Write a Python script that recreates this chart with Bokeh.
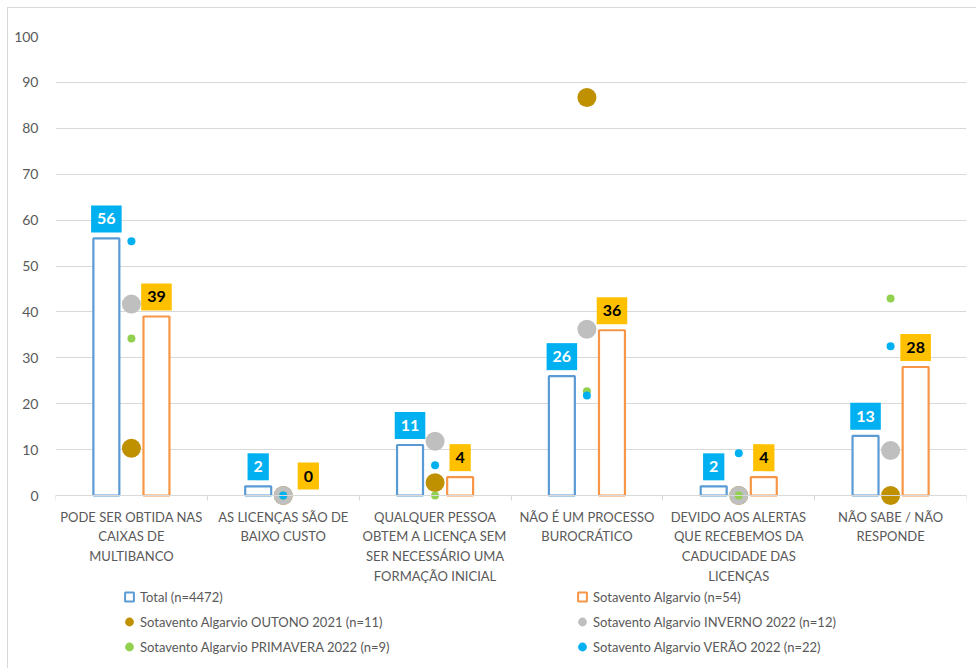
from bokeh.plotting import figure
from bokeh.models import (ColumnDataSource, Range1d, FixedTicker, Legend, LegendItem, LinearAxis)
from bokeh.transform import dodge
from bokeh.core.properties import value
from bokeh.embed import file_html
from bokeh.resources import INLINE

categories = [
    "PODE SER OBTIDA NAS\nCAIXAS DE\nMULTIBANCO",
    "AS LICENÇAS SÃO DE\nBAIXO CUSTO",
    "QUALQUER PESSOA\nOBTEM A LICENÇA SEM\nSER NECESSÁRIO UMA\nFORMAÇÃO INICIAL",
    "NÃO É UM PROCESSO\nBUROCRÁTICO",
    "DEVIDO AOS ALERTAS\nQUE RECEBEMOS DA\nCADUCIDADE DAS\nLICENÇAS",
    "NÃO SABE / NÃO\nRESPONDE",
]
total = [56, 2, 11, 26, 2, 13]
sotavento = [39, 0, 4, 36, 4, 28]
outono_2021 = [10.3, 0, 2.8, 86.7, 0, 0]
inverno_2022 = [41.7, 0, 11.8, 36.2, 0, 9.8]
primavera_2022 = [34.2, 0, 0, 22.7, 0, 42.9]
verao_2022 = [55.4, 0, 6.6, 21.8, 9.2, 32.5]
y_ticks = list(range(0, 101, 10))

names = {
    "total": "Total (n=4472)",
    "sot": "Sotavento Algarvio (n=54)",
    "out": "Sotavento Algarvio OUTONO 2021 (n=11)",
    "inv": "Sotavento Algarvio INVERNO 2022 (n=12)",
    "pri": "Sotavento Algarvio PRIMAVERA 2022 (n=9)",
    "ver": "Sotavento Algarvio VERÃO 2022 (n=22)",
}

C_TOTAL = "#5B9BD5"
C_SOT = "#F79646"
C_OUT = "#BF9000"
C_INV = "#BFBFBF"
C_PRI = "#92D050"
C_VER = "#00B0F0"
GRID = "#D9D9D9"
TXT = "#595959"
FONT = "Lato"

# layout (pixels)
W, H = 969, 661
BL, BT, BR, BB = 47, 28, 11, 2
FH = H - BT - BB
PX_PER_UNIT = 4.59
y_start = 100 - FH / PX_PER_UNIT

xc = [i + 0.5 for i in range(len(categories))]
src = ColumnDataSource(dict(
    x=xc, zero=[0] * len(xc), cat=categories,
    total=total, sot=sotavento, out=outono_2021, inv=inverno_2022,
    pri=primavera_2022, ver=verao_2022,
    total_lc=[C_TOTAL if v > 0 else None for v in total],
    sot_lc=[C_SOT if v > 0 else None for v in sotavento],
    total_lbl=[str(v) for v in total], sot_lbl=[str(v) for v in sotavento],
))

p = figure(width=W, height=H, output_backend="svg", toolbar_location=None,
           x_range=Range1d(0, 6), y_range=Range1d(y_start, 100), x_axis_location=None,
           min_border_left=BL, min_border_right=BR, min_border_top=BT, min_border_bottom=BB)
p.styles = {"margin-left": "7px", "margin-top": "7px",
            "border-left": "1px solid #D9D9D9", "border-top": "1px solid #D9D9D9"}
p.outline_line_color = None
p.background_fill_color = "white"
p.border_fill_color = "white"

OFF = 0.165
BW = 0.171
p.vbar(x=dodge("x", -OFF), top="total", bottom=0, width=BW, source=src,
       fill_color="white", line_color="total_lc", line_width=2.2)
p.vbar(x=dodge("x", OFF), top="sot", bottom=0, width=BW, source=src,
       fill_color="white", line_color="sot_lc", line_width=2.2)
p.scatter(x="x", y="out", size=19, source=src, fill_color=C_OUT, line_color=None)
p.scatter(x="x", y="inv", size=19, source=src, fill_color=C_INV, line_color=None)
p.scatter(x="x", y="pri", size=8, source=src, fill_color=C_PRI, line_color=None)
p.scatter(x="x", y="ver", size=8, source=src, fill_color=C_VER, line_color=None)

lab_kw = dict(source=src, y_offset=-6, text_align="center", text_baseline="bottom",
              text_font=value(FONT), text_font_size="16px", text_font_style="bold",
              padding=dict(top=8, right=6, bottom=8, left=6))
p.text(x=dodge("x", -OFF), y="total", text="total_lbl", text_color="white",
       background_fill_color=C_VER, **lab_kw)
p.text(x=dodge("x", OFF), y="sot", text="sot_lbl", text_color="black",
       background_fill_color="#FFC000", **lab_kw)

# category labels under the axis
p.text(x="x", y="zero", text="cat", source=src, y_offset=13, text_align="center",
       text_baseline="top", text_font=value(FONT), text_font_size="13px",
       text_color=TXT, text_line_height=1.24)

# axes
p.yaxis.ticker = FixedTicker(ticks=y_ticks)
p.yaxis.axis_line_color = None
p.yaxis.major_tick_line_color = None
p.yaxis.minor_tick_line_color = None
p.yaxis.major_tick_out = 0
p.yaxis.minor_tick_out = 0
p.yaxis.major_label_text_font = FONT
p.yaxis.major_label_text_font_size = "14px"
p.yaxis.major_label_text_color = TXT
p.yaxis.major_label_standoff = 17
p.ygrid.ticker = FixedTicker(ticks=y_ticks)
p.ygrid.grid_line_color = GRID
p.xgrid.grid_line_color = None

xax = LinearAxis(fixed_location=0,
                 ticker=FixedTicker(ticks=xc, minor_ticks=list(range(len(categories) + 1))),
                 major_label_overrides={x: "" for x in xc},
                 axis_line_color=GRID, major_tick_line_color=None,
                 minor_tick_line_color=GRID, minor_tick_in=0, minor_tick_out=5)
p.add_layout(xax, "below")

# legend proxies (one undrawn NaN point each, so the legend has a glyph to show)
nan = float("nan")
proxy = lambda: ColumnDataSource(dict(x=[nan], y=[nan]))
r_tot = p.scatter(x="x", y="y", source=proxy(), marker="square", fill_color="white", line_color=C_TOTAL, line_width=2)
r_sot = p.scatter(x="x", y="y", source=proxy(), marker="square", fill_color="white", line_color=C_SOT, line_width=2)
r_out = p.scatter(x="x", y="y", source=proxy(), fill_color=C_OUT, line_color=None)
r_inv = p.scatter(x="x", y="y", source=proxy(), fill_color=C_INV, line_color=None)
r_pri = p.scatter(x="x", y="y", source=proxy(), fill_color=C_PRI, line_color=None)
r_ver = p.scatter(x="x", y="y", source=proxy(), fill_color=C_VER, line_color=None)

leg_kw = dict(glyph_width=22, glyph_height=25, label_height=25, spacing=0, padding=0, margin=0,
              label_standoff=0, border_line_color=None, background_fill_alpha=0,
              label_text_font=FONT, label_text_font_size="13px", label_text_color=TXT)
leg_l = Legend(items=[LegendItem(label=names["total"], renderers=[r_tot]),
                      LegendItem(label=names["out"], renderers=[r_out]),
                      LegendItem(label=names["pri"], renderers=[r_pri])],
               location=(63, 8), **leg_kw)
leg_r = Legend(items=[LegendItem(label=names["sot"], renderers=[r_sot]),
                      LegendItem(label=names["inv"], renderers=[r_inv]),
                      LegendItem(label=names["ver"], renderers=[r_ver])],
               location=(516, 8), **leg_kw)
p.add_layout(leg_l, "center")
p.add_layout(leg_r, "center")

open("out.html", "w").write(file_html(p, INLINE))
